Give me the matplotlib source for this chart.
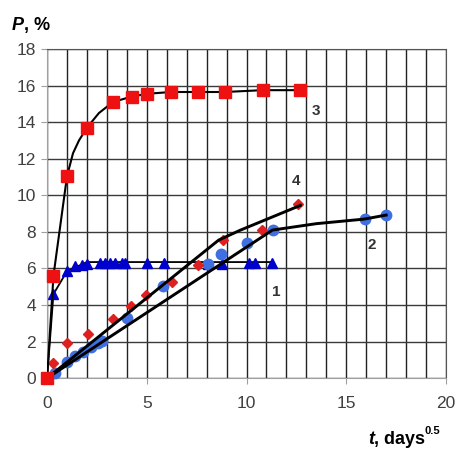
import numpy as np
import matplotlib.pyplot as plt

plt.rcParams['font.family'] = ['Liberation Sans', 'DejaVu Sans']

# -----------------------------
# Data, x in days^0.5, P in %
# -----------------------------
# 1 - blue triangles
x1 = [0.32, 1.0, 1.41, 1.73, 2.0, 2.65, 2.9, 3.16, 3.4, 3.74, 3.9, 5.0, 5.86, 8.08, 8.75, 10.1, 10.4, 11.3]
y1 = [4.6, 5.85, 6.12, 6.2, 6.25, 6.3, 6.3, 6.3, 6.28, 6.3, 6.28, 6.3, 6.3, 6.25, 6.22, 6.3, 6.3, 6.3]
fit1_x = [0, 0.32, 1.0, 2.0, 11.3]
fit1_y = [0, 4.6, 5.85, 6.35, 6.35]

# 2 - blue circles
x2 = [0.4, 1.0, 1.4, 1.82, 2.2, 2.57, 2.73, 4.0, 5.83, 8.08, 8.72, 10.0, 11.34, 15.94, 17.0]
y2 = [0.3, 0.88, 1.22, 1.44, 1.71, 1.9, 2.05, 3.27, 5.02, 6.25, 6.8, 7.4, 8.08, 8.7, 8.93]
fit2_x = [0, 11.3, 13.5, 15.9, 17.0]
fit2_y = [0, 8.1, 8.45, 8.7, 8.92]

# 3 - red squares
x3 = [0, 0.32, 1.0, 2.0, 3.3, 4.24, 5.0, 6.2, 7.55, 8.9, 10.8, 12.7]
y3 = [0, 5.6, 11.05, 13.7, 15.1, 15.4, 15.55, 15.65, 15.65, 15.65, 15.75, 15.75]
fit3_x = [0, 0.32, 1.0, 1.3, 1.6, 2.0, 2.6, 3.3, 4.24, 5.0, 6.2, 7.55, 8.9, 10.8, 12.7]
fit3_y = [0, 5.6, 11.05, 12.3, 13.0, 13.7, 14.5, 15.1, 15.4, 15.55, 15.65, 15.65, 15.65, 15.75, 15.75]

# 4 - red diamonds
x4 = [0.32, 1.02, 2.07, 3.32, 4.19, 4.96, 6.25, 7.58, 8.84, 10.76, 12.6]
y4 = [0.84, 1.9, 2.44, 3.26, 3.94, 4.54, 5.27, 6.18, 7.55, 8.13, 9.55]
fit4_x = [0, 8.6, 9.7, 12.7]
fit4_y = [0, 7.55, 8.1, 9.45]

labels = ["1", "2", "3", "4"]
label_x = [11.5, 16.3, 13.5, 12.5]
label_y = [4.7, 7.3, 14.6, 10.8]

# -----------------------------
# Figure
# -----------------------------
fig = plt.figure(figsize=(4.57, 4.54), dpi=100)
ax = fig.add_axes([0.103, 0.167, 0.873, 0.725])

ax.set_xlim(0, 20)
ax.set_ylim(0, 18)
ax.set_xticks(np.arange(0, 21, 5))
ax.set_xticks(np.arange(0, 21, 1), minor=True)
ax.set_yticks(np.arange(0, 19, 2))

ax.grid(which='both', axis='x', color='#222222', lw=1.0)
ax.grid(which='major', axis='y', color='#3a3a3a', lw=1.0)
ax.set_axisbelow(True)

for side in ['top', 'right']:
    ax.spines[side].set_color('#555555')
for side in ['left', 'bottom']:
    ax.spines[side].set_color('#a0a0a0')

ax.tick_params(which='major', length=4, color='#a0a0a0', labelsize=12.5,
               labelcolor='#404040', pad=4)
ax.tick_params(which='minor', length=0)
ax.tick_params(axis='x', pad=9)

# markers
ax.plot(x1, y1, ls='none', marker='^', ms=7.5, color='#0000cc', zorder=3, clip_on=False)
ax.plot(x2, y2, ls='none', marker='o', ms=7.5, color='#3f6fe0', zorder=3, clip_on=False)
ax.plot(x4, y4, ls='none', marker='D', ms=5.5, color='#e02020', zorder=3, clip_on=False)

# fit lines
ax.plot(fit1_x, fit1_y, color='black', lw=1.3, zorder=2)
ax.plot(fit2_x, fit2_y, color='black', lw=2.1, zorder=4)
ax.plot(fit4_x, fit4_y, color='black', lw=2.1, zorder=4)
ax.plot(fit3_x, fit3_y, color='black', lw=1.5, zorder=4)
ax.plot(x3, y3, ls='none', marker='s', ms=8, color='#ee1111', zorder=5, clip_on=False)

for lab, lx, ly in zip(labels, label_x, label_y):
    ax.text(lx, ly, lab, fontsize=11, fontweight='bold', color='#333333',
            ha='center', va='center')

# axis titles
p = fig.text(0.026, 0.935, "P", fontsize=13, fontweight='bold', style='italic',
             va='baseline')
ax.annotate(", %", xy=(1, 0), xycoords=p, fontsize=13, fontweight='bold',
            va='bottom', annotation_clip=False)

t = fig.text(0.805, 0.023, "t", fontsize=13, fontweight='bold', style='italic',
             va='baseline')
d = ax.annotate(", days", xy=(1, 0), xycoords=t, fontsize=13, fontweight='bold',
                va='bottom', annotation_clip=False)
ax.annotate("0.5", xy=(1, 1), xycoords=d, fontsize=8, fontweight='bold',
            va='center', annotation_clip=False)

fig.savefig("out.png", dpi=100)
